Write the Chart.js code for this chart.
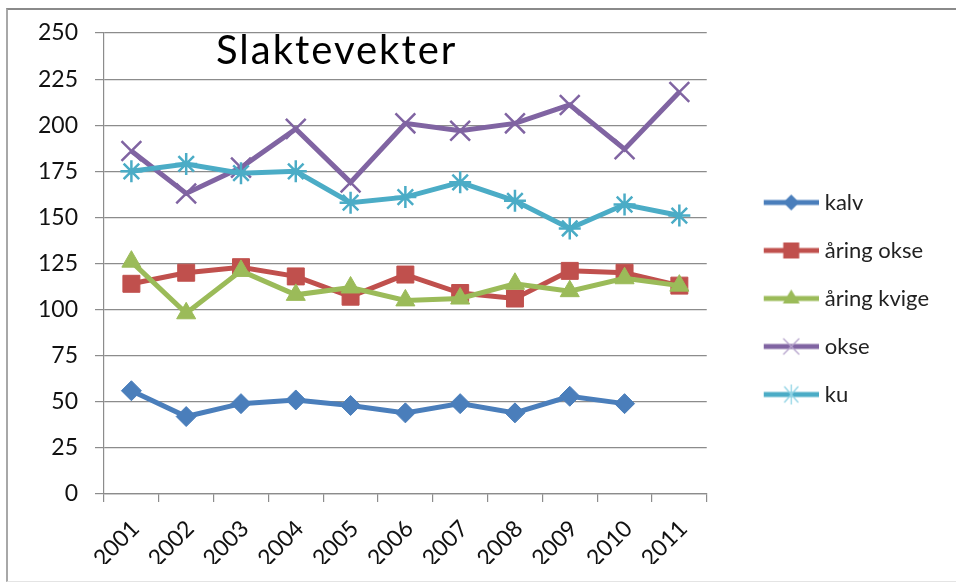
<!DOCTYPE html>
<html><head><meta charset="utf-8">
<script src="https://cdn.jsdelivr.net/npm/chart.js@4"></script>
<style>
html,body{margin:0;padding:0;background:#fff;overflow:hidden;width:956px;height:583px;}
#frame{position:absolute;left:6px;top:8px;width:960px;height:574px;border-top:2px solid #8a8a8a;border-left:2px solid #a8a8a8;border-bottom:1px solid #e4e4e4;box-sizing:border-box;}
#wrap{position:absolute;left:8px;top:10px;width:948px;height:570px;}
</style></head>
<body><div id="frame"></div><div id="wrap"><canvas id="c" width="948" height="570"></canvas></div>
<script>
const titleText = 'Slaktevekter';
const years = ['2001','2002','2003','2004','2005','2006','2007','2008','2009','2010','2011'];
const seriesNames = ['kalv','åring okse','åring kvige','okse','ku'];
const kalv       = [56, 42, 49, 51, 48, 44, 49, 44, 53, 49, null];
const aringOkse  = [114, 120, 123, 118, 107, 119, 109, 106, 121, 120, 113];
const aringKvige = [126, 98, 121, 108, 112, 105, 106, 114, 110, 117, 113];
const okse       = [186, 163, 177, 198, 169, 201, 197, 201, 211, 187, 218];
const ku         = [175, 179, 174, 175, 158, 161, 169, 159, 144, 157, 151];
const yMin = 0, yMax = 250, yStep = 25;

const colors = ['#4a7ebb', '#c0504d', '#9bbb59', '#8064a2', '#4bacc6'];
const styles = ['rectRot', 'rect', 'triangle', 'crossRot', 'star'];
const radii = [10, 12, 11, 14, 11];
const seriesData = [kalv, aringOkse, aringKvige, okse, ku];

function legendImg(color, style) {
  const c = document.createElement('canvas');
  c.width = 91; c.height = 22;
  const g = c.getContext('2d');
  g.strokeStyle = color; g.lineWidth = 5; g.lineCap = 'butt';
  g.beginPath(); g.moveTo(36, 11); g.lineTo(91, 11); g.stroke();
  const cx = 63.5, cy = 11;
  g.fillStyle = color;
  g.beginPath();
  if (style === 'rectRot') {
    g.moveTo(cx, cy - 8); g.lineTo(cx + 8, cy); g.lineTo(cx, cy + 8); g.lineTo(cx - 8, cy); g.closePath(); g.fill();
  } else if (style === 'rect') {
    g.rect(cx - 8, cy - 8, 16, 16); g.fill();
  } else if (style === 'triangle') {
    g.moveTo(cx, cy - 9); g.lineTo(cx + 8.5, cy + 5); g.lineTo(cx - 8.5, cy + 5); g.closePath(); g.fill();
  } else if (style === 'crossRot') {
    g.strokeStyle = '#b6a4cc'; g.lineWidth = 1.3;
    g.moveTo(cx - 8, cy - 8); g.lineTo(cx + 8, cy + 8); g.moveTo(cx + 8, cy - 8); g.lineTo(cx - 8, cy + 8); g.stroke();
  } else if (style === 'star') {
    g.strokeStyle = '#8fd3e4'; g.lineWidth = 1.3;
    g.moveTo(cx - 7, cy - 8); g.lineTo(cx + 7, cy + 8); g.moveTo(cx + 7, cy - 8); g.lineTo(cx - 7, cy + 8);
    g.moveTo(cx, cy - 10); g.lineTo(cx, cy + 10); g.stroke();
  }
  return c;
}
const legendImgs = colors.map((c, i) => legendImg(c, styles[i]));

const datasets = seriesNames.map((name, i) => ({
  label: name,
  data: seriesData[i],
  borderColor: colors[i],
  backgroundColor: colors[i],
  borderWidth: 5,
  pointStyle: styles[i],
  pointRadius: radii[i],
  pointHoverRadius: radii[i],
  pointBackgroundColor: colors[i],
  pointBorderColor: colors[i],
  pointBorderWidth: (styles[i] === 'crossRot' || styles[i] === 'star') ? 2.5 : 1,
  tension: 0,
  order: seriesNames.length - i
}));

const innerTitle = {
  id: 'innerTitle',
  afterDraw(chart) {
    const {ctx, chartArea} = chart;
    ctx.save();
    ctx.font = '40px Lato';
    if ('letterSpacing' in ctx) ctx.letterSpacing = '2px';
    ctx.fillStyle = '#000';
    ctx.textBaseline = 'alphabetic';
    ctx.textAlign = 'left';
    ctx.fillText(titleText, chartArea.left + 112, chartArea.top + 31);
    ctx.restore();
  }
};

new Chart(document.getElementById('c'), {
  type: 'line',
  data: { labels: years, datasets },
  options: {
    responsive: false,
    animation: false,
    layout: { autoPadding: false, padding: { top: 23, bottom: 16, left: 0, right: 17 } },
    plugins: {
      title: { display: false },
      tooltip: { enabled: false },
      legend: {
        position: 'right',
        labels: {
          usePointStyle: true,
          pointStyleWidth: 81,
          padding: 26,
          color: '#222',
          font: { family: 'Lato', size: 22 },
          generateLabels(chart) {
            return chart.data.datasets.map((ds, i) => ({
              text: ds.label,
              fillStyle: ds.borderColor,
              strokeStyle: ds.borderColor,
              lineWidth: 0,
              pointStyle: legendImgs[i],
              datasetIndex: i,
              hidden: false,
              fontColor: '#222'
            }));
          }
        }
      }
    },
    scales: {
      x: {
        type: 'category',
        offset: true,
        afterFit(scale) { scale.height = 70; },
        grid: { offset: true, drawOnChartArea: false, drawTicks: true, tickLength: 8, color: '#8c8c8c', lineWidth: 1.2 },
        border: { color: '#8c8c8c', width: 1.2 },
        ticks: { minRotation: 45, maxRotation: 45, autoSkip: false, padding: 13, labelOffset: 4, color: '#111', font: { family: 'Lato', size: 23 } }
      },
      y: {
        min: yMin, max: yMax,
        afterFit(scale) { scale.width = 96; scale.paddingTop = 0; scale.paddingBottom = 0; },
        grid: { color: '#8c8c8c', lineWidth: 1.2, tickLength: 9, drawTicks: true },
        border: { color: '#8c8c8c', width: 1.2 },
        ticks: { stepSize: yStep, padding: 17, color: '#111', font: { family: 'Lato', size: 23 } }
      }
    }
  },
  plugins: [innerTitle]
});
</script>
</body></html>
